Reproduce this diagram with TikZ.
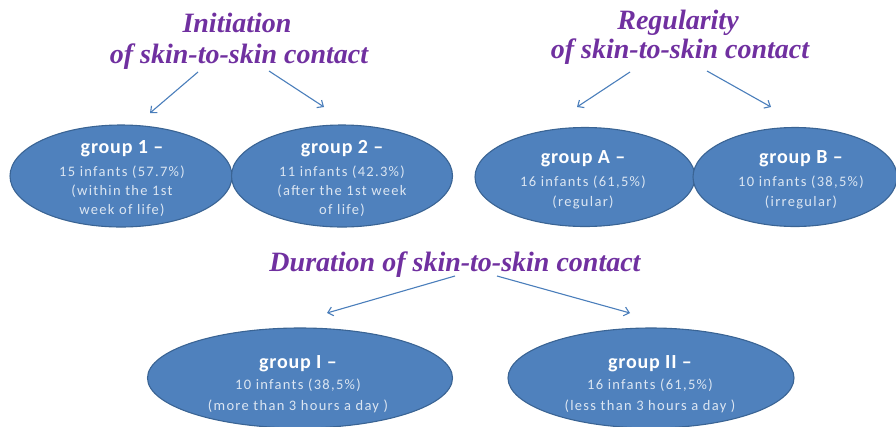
\documentclass[tikz,border=0pt]{standalone}
\usepackage{fontspec}
\setmainfont{Liberation Serif}
\newfontfamily\titlefam{Liberation Serif}
\newfontfamily\grpfam[LetterSpace=4]{Carlito}
\newfontfamily\infofam[LetterSpace=9]{Carlito}
\usetikzlibrary{shapes.geometric,arrows.meta}
\definecolor{ellfill}{HTML}{4F81BD}
\definecolor{elldraw}{HTML}{3A6494}
\definecolor{infotext}{HTML}{DCE6F2}
\definecolor{titlecol}{HTML}{7030A0}
\definecolor{arrowcol}{HTML}{4A7EBB}
\begin{document}
\begin{tikzpicture}[x=1pt,y=-1pt,
  grp/.style={ellipse, fill=ellfill, draw=elldraw, line width=1.1pt, inner sep=0pt},
  title/.style={anchor=base, inner sep=0pt, text=titlecol, font=\titlefam\fontsize{28}{30}\selectfont\bfseries\itshape},
  glabel/.style={anchor=base, inner sep=0pt, text=white, font=\grpfam\fontsize{20}{24}\selectfont\bfseries},
  ginfo/.style={anchor=base, inner sep=0pt, text=infotext, font=\infofam\fontsize{14.5}{18}\selectfont},
  conn/.style={draw=arrowcol, line width=1.1pt, -{Straight Barb[length=5pt,width=9pt]}}]
\useasboundingbox (0,0) rectangle (896,426);

% titles
\node[title] (t1a) at (237,32) {Initiation};
\node[title] (t1b) at (239,63) {of skin-to-skin contact};
\node[title] (t2a) at (678,29) {Regularity};
\node[title] (t2b) at (680,58) {of skin-to-skin contact};
\node[title] (t3) at (455,271) {Duration of skin-to-skin contact};

% ellipses
\node[grp, minimum width=222pt, minimum height=102pt] (g1) at (121,176) {};
\node[grp, minimum width=221pt, minimum height=102pt] (g2) at (342,176) {};
\node[grp, minimum width=220pt, minimum height=99pt] (gA) at (585,177) {};
\node[grp, minimum width=204pt, minimum height=99pt] (gB) at (795,177) {};
\node[grp, minimum width=305pt, minimum height=100pt] (gI) at (300,378) {};
\node[grp, minimum width=286pt, minimum height=100pt] (gII) at (651,378) {};

% group texts
\node[glabel] (g1l) at (122,153) {group 1 –};
\node[ginfo] (g1i) at (122,176) {15 infants (57.7\%)};
\node[ginfo] (g1j) at (122,195) {(within the 1st};
\node[ginfo] (g1k) at (122,214) {week of life)};

\node[glabel] (g2l) at (342,153) {group 2 –};
\node[ginfo] (g2i) at (342,176) {11 infants (42.3\%)};
\node[ginfo] (g2j) at (342,195) {(after the 1st week};
\node[ginfo] (g2k) at (342,214) {of life)};

\node[glabel] (gAl) at (583,163) {group A –};
\node[ginfo] (gAi) at (583,186) {16 infants (61,5\%)};
\node[ginfo] (gAj) at (583,206) {(regular)};

\node[glabel] (gBl) at (801,163) {group B –};
\node[ginfo] (gBi) at (801,186) {10 infants (38,5\%)};
\node[ginfo] (gBj) at (801,206) {(irregular)};

\node[glabel] (gIl) at (298,368) {group I –};
\node[ginfo] (gIi) at (298,389) {10 infants (38,5\%)};
\node[ginfo] (gIj) at (298,410) {(more than 3 hours a day )};

\node[glabel] (gIIl) at (650,368) {group II –};
\node[ginfo] (gIIi) at (650,389) {16 infants (61,5\%)};
\node[ginfo] (gIIj) at (650,410) {(less than 3 hours a day )};

% arrow end points
\coordinate (a1s) at (198,72);  \coordinate (a1e) at (150,113);
\coordinate (a2s) at (269,71);  \coordinate (a2e) at (324,107);
\coordinate (a3s) at (630,72);  \coordinate (a3e) at (577,107);
\coordinate (a4s) at (707,71);  \coordinate (a4e) at (771,107);
\coordinate (a5s) at (455,276); \coordinate (a5e) at (327,313);
\coordinate (a6s) at (497,276); \coordinate (a6e) at (630,313);

\draw[conn] (a1s) -- (a1e);
\draw[conn] (a2s) -- (a2e);
\draw[conn] (a3s) -- (a3e);
\draw[conn] (a4s) -- (a4e);
\draw[conn] (a5s) -- (a5e);
\draw[conn] (a6s) -- (a6e);
\end{tikzpicture}
\end{document}
